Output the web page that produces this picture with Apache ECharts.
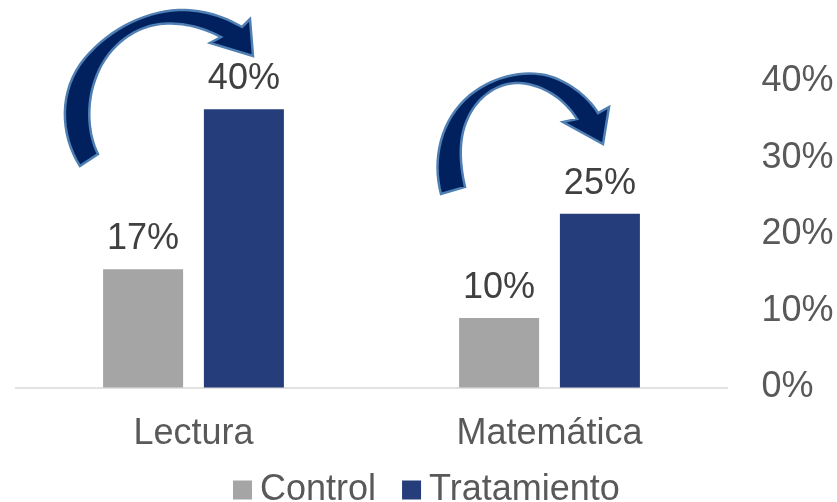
<!DOCTYPE html>
<html>
<head>
<meta charset="utf-8">
<script src="https://cdn.jsdelivr.net/npm/echarts@6/dist/echarts.min.js"></script>
<style>html,body{margin:0;padding:0;background:#fff}#c{width:837px;height:502px}</style>
</head>
<body>
<div id="c"></div>
<script>
const categories = ["Lectura", "Matemática"];
const controlValues = [0.17, 0.10];
const tratamientoValues = [0.40, 0.25];
const seriesNames = ["Control", "Tratamiento"];

const FONT = "Liberation Sans, Arial, sans-serif";
const pct = v => Math.round(v * 100) + "%";
const chart = echarts.init(document.getElementById("c"));

// Decorative arrow outline: segments of cubic beziers and lines
function outline(start, segs) {
  const pts = [start];
  let cur = start;
  segs.forEach(s => {
    if (s.length === 2) { pts.push(s); cur = s; return; }
    const [c1, c2, p] = [s.slice(0, 2), s.slice(2, 4), s.slice(4, 6)];
    for (let i = 1; i <= 16; i++) {
      const t = i / 16, u = 1 - t;
      pts.push([
        u*u*u*cur[0] + 3*u*u*t*c1[0] + 3*u*t*t*c2[0] + t*t*t*p[0],
        u*u*u*cur[1] + 3*u*u*t*c1[1] + 3*u*t*t*c2[1] + t*t*t*p[1]
      ]);
    }
    cur = p;
  });
  return pts;
}
const arrow1 = outline([80,166], [
  [60,135,58,90,85,58],[110,28,150,9,185,10],[210,11,228,19,242,27],
  [250,19],[253,56],[210,43],[221,37],
  [200,26,180,22,160,24],[130,28,105,50,95,80],[86,105,88,135,98,154]
]);
const arrow2 = outline([441,194], [
  [432,160,440,120,470,95],[495,75,530,68,555,78],[575,86,590,100,598,113],
  [609,107],[603,144],[563,122],[577,119],
  [565,100,545,85,520,83],[495,82,475,100,467,120],[458,140,460,165,465,187]
]);

const labelCfg = {
  show: true, position: "top", distance: 12,
  fontSize: 36, fontFamily: FONT, color: "#404040",
  formatter: p => pct(p.value)
};

chart.setOption({
  animation: false,
  grid: { left: 15.5, right: 109.5, top: 81.5, bottom: 114.5 },
  legend: {
    data: seriesNames, left: 228, top: 467,
    itemWidth: 19, itemHeight: 19, itemGap: 26, icon: "rect",
    textStyle: { fontSize: 36, fontFamily: FONT, color: "#595959", padding: [0, 0, 0, 3] }
  },
  xAxis: {
    type: "category", data: categories,
    axisLine: { lineStyle: { color: "#d9d9d9", width: 1.5 } },
    axisTick: { show: false },
    axisLabel: { fontSize: 36, fontFamily: FONT, color: "#595959", margin: 29 }
  },
  yAxis: [
    { type: "value", min: 0, max: 0.44, show: false, splitLine: { show: false } },
    {
      type: "value", position: "right", min: 0, max: 0.4, interval: 0.1,
      axisLine: { show: false }, axisTick: { show: false }, splitLine: { show: false },
      axisLabel: { fontSize: 36, fontFamily: FONT, color: "#595959", margin: 34, formatter: v => pct(v) }
    }
  ],
  series: [
    { name: seriesNames[0], type: "bar", yAxisIndex: 0, data: controlValues,
      barWidth: 80, barGap: "26%", itemStyle: { color: "#a5a5a5" }, label: labelCfg },
    { name: seriesNames[1], type: "bar", yAxisIndex: 0, data: tratamientoValues,
      barWidth: 80, barGap: "26%", itemStyle: { color: "#263d7b" }, label: labelCfg }
  ],
  graphic: [
    { type: "polygon", z: 100, shape: { points: arrow1 },
      style: { fill: "#00205e", stroke: "#4f7fb3", lineWidth: 2.5 } },
    { type: "polygon", z: 100, shape: { points: arrow2 },
      style: { fill: "#00205e", stroke: "#4f7fb3", lineWidth: 2.5 } }
  ]
});
</script>
</body>
</html>
